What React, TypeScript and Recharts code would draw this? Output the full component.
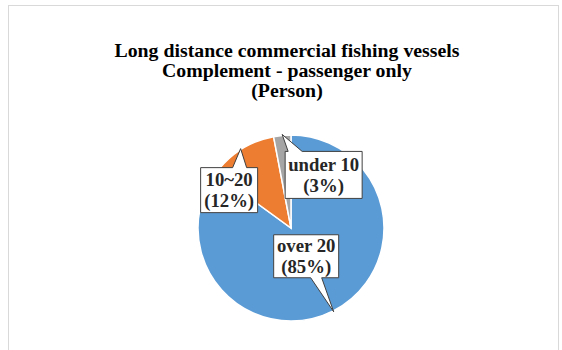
import React from "react";
import { PieChart, Pie, Cell } from "recharts";

// Crew composition of long distance commercial fishing vessels
const categories = ["over 20", "10~20", "under 10"];
const shares = [85, 12, 3];
const sliceColors = ["#5B9BD5", "#ED7D31", "#A5A5A5"];

const titleLines = [
  "Long distance commercial fishing vessels",
  "Complement - passenger only",
  "(Person)",
];

const data = categories.map((name, i) => ({ name, value: shares[i] }));

// Callout layout: box offset from the pointer tip, box size, pointer base span and side
const callouts = [
  { dx: -60, dy: -77, w: 65, h: 43, b1: 37, b2: 48, side: "bottom" },
  { dx: -40, dy: 19, w: 57, h: 45, b1: 32, b2: 46, side: "top" },
  { dx: 3, dy: 17, w: 77, h: 47, b1: 3, b2: 17, side: "top" },
];

const FONT = "Liberation Serif";
const TITLE_STRETCH = 1.1;
const LABEL_STRETCH = 1.04;
const RAD = Math.PI / 180;

const CalloutLabel = (props: any) => {
  const { cx, cy, midAngle, outerRadius, index } = props;
  const c = callouts[index];
  const tx = cx + (outerRadius + 1) * Math.cos(-midAngle * RAD);
  const ty = cy + (outerRadius + 1) * Math.sin(-midAngle * RAD);
  const x = tx + c.dx;
  const y = ty + c.dy;
  let d: string;
  if (c.side === "top") {
    d = `M${x},${y} L${x + c.b1},${y} L${tx},${ty} L${x + c.b2},${y} L${x + c.w},${y} L${x + c.w},${y + c.h} L${x},${y + c.h} Z`;
  } else {
    d = `M${x},${y} L${x + c.w},${y} L${x + c.w},${y + c.h} L${x + c.b2},${y + c.h} L${tx},${ty} L${x + c.b1},${y + c.h} L${x},${y + c.h} Z`;
  }
  const mx = x + c.w / 2;
  const my = y + c.h / 2;
  const textStyle = {
    fontFamily: FONT,
    fontWeight: 700,
    fontSize: 18,
  };
  return (
    <g>
      <path d={d} fill="#ffffff" stroke="#404040" strokeWidth={1} />
      <g transform={`translate(${mx},0) scale(${LABEL_STRETCH},1) translate(${-mx},0)`}>
        <text
          x={mx}
          y={my - 10}
          textAnchor="middle"
          dominantBaseline="central"
          style={textStyle}
          fill="#262626"
        >
          {categories[index]}
        </text>
        <text
          x={mx}
          y={my + 11}
          textAnchor="middle"
          dominantBaseline="central"
          style={textStyle}
          fill="#262626"
        >
          {`(${shares[index]}%)`}
        </text>
      </g>
    </g>
  );
};

export default function App() {
  return (
    <div
      style={{
        position: "absolute",
        left: 0,
        top: 0,
        width: 562,
        height: 350,
        background: "#ffffff",
        overflow: "hidden",
      }}
    >
      <div
        style={{
          position: "absolute",
          left: 8,
          top: 5,
          width: 551,
          height: 360,
          border: "1px solid #d9d9d9",
          boxSizing: "border-box",
        }}
      />
      <div
        style={{
          position: "absolute",
          left: 0,
          top: 41,
          width: 574,
          textAlign: "center",
          fontFamily: FONT,
          fontWeight: 700,
          fontSize: 18,
          lineHeight: "20px",
          color: "#000000",
          transform: `scaleX(${TITLE_STRETCH})`,
          transformOrigin: "287px 0",
        }}
      >
        {titleLines.map((t) => (
          <div key={t}>{t}</div>
        ))}
      </div>
      <div style={{ position: "absolute", left: 0, top: 0 }}>
        <PieChart width={562} height={350}>
          <Pie
            data={data}
            dataKey="value"
            nameKey="name"
            cx={286}
            cy={223}
            outerRadius={93}
            startAngle={90}
            endAngle={-270}
            stroke="#ffffff"
            strokeWidth={1.5}
            label={CalloutLabel}
            labelLine={false}
            isAnimationActive={false}
          >
            {data.map((d, i) => (
              <Cell key={d.name} fill={sliceColors[i]} />
            ))}
          </Pie>
        </PieChart>
      </div>
    </div>
  );
}
